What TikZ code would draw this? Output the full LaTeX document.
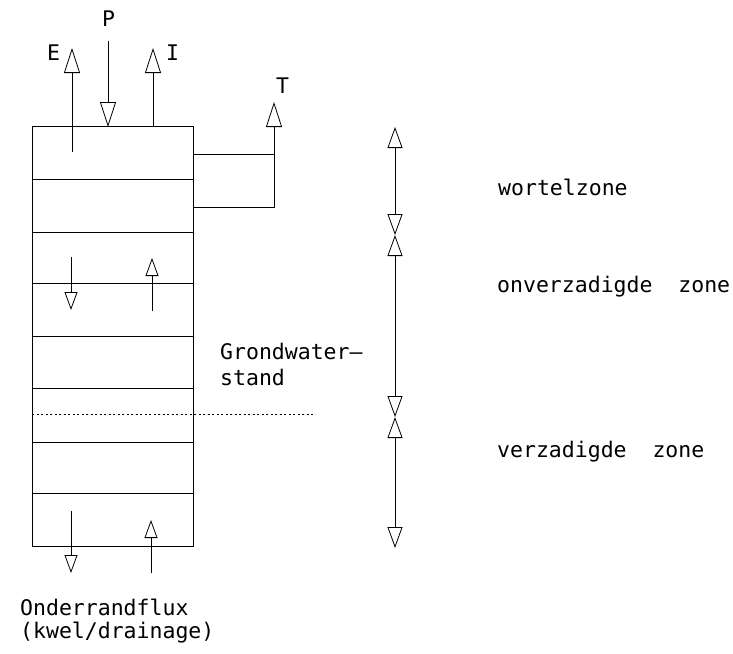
\documentclass[tikz,border=0pt]{standalone}
\usepackage{fontspec}
\newfontfamily\plotfont{DejaVu Sans Mono}
\usetikzlibrary{arrows.meta}

\tikzset{
    flux/.style={line width=0.8pt, -{Triangle[open, length=25pt, width=16pt]}},
    smallflux/.style={line width=0.8pt, -{Triangle[open, length=18pt, width=13pt]}},
    zonescale/.style={line width=0.8pt, {Triangle[open, length=21pt, width=15pt]}-{Triangle[open, length=21pt, width=15pt]}},
    layer/.style={line width=0.7pt},
    plottext/.style={inner sep=0pt, anchor=base west, font=\plotfont\fontsize{21.5}{25}\selectfont}
}

\begin{document}
\begin{tikzpicture}[x=1pt, y=-1pt]
    \useasboundingbox (0,0) rectangle (733,653);

    % Soil column
    \draw[layer] (32,126) rectangle (193,546);
    \foreach \y in {179, 232, 283, 336, 388, 442, 493} {
        \draw[layer] (32,\y) -- (193,\y);
    }
    % Groundwater level
    \draw[layer, dash pattern=on 2pt off 2.5pt] (32,414) -- (315,414);

    % Root box for transpiration
    \draw[layer] (193,154) -- (274,154) -- (274,207) -- (193,207);

    % Top fluxes
    \coordinate (e0) at (72,152);  \coordinate (e1) at (72,48);
    \coordinate (p0) at (108,41);  \coordinate (p1) at (108,127);
    \coordinate (i0) at (153,127); \coordinate (i1) at (153,48);
    \coordinate (t0) at (274,154); \coordinate (t1) at (274,102);
    \draw[flux] (e0) -- (e1);
    \draw[flux] (p0) -- (p1);
    \draw[flux] (i0) -- (i1);
    \draw[flux] (t0) -- (t1);
    \node[plottext] (lblE) at (47,60) {E};
    \node[plottext] (lblP) at (102,27) {P};
    \node[plottext] (lblI) at (166,60) {I};
    \node[plottext] (lblT) at (276,93) {T};

    % Internal fluxes
    \coordinate (d0) at (71,257);  \coordinate (d1) at (71,310);
    \coordinate (u0) at (152,311); \coordinate (u1) at (152,258);
    \draw[smallflux] (d0) -- (d1);
    \draw[smallflux] (u0) -- (u1);

    % Bottom boundary fluxes
    \coordinate (bd0) at (71,511);  \coordinate (bd1) at (71,573);
    \coordinate (bu0) at (151,573); \coordinate (bu1) at (151,520);
    \draw[smallflux] (bd0) -- (bd1);
    \draw[smallflux] (bu0) -- (bu1);

    % Zone scale
    \coordinate (z0) at (395,127);
    \coordinate (z1) at (395,235);
    \coordinate (z2) at (395,417);
    \coordinate (z3) at (395,548);
    \draw[zonescale] (z0) -- (z1);
    \draw[zonescale] (z1) -- (z2);
    \draw[zonescale] (z2) -- (z3);

    % Labels
    \node[plottext] (wortel) at (498,195) {wortelzone};
    \node[plottext] (onverz) at (497,292) {onverzadigde\ \ zone};
    \node[plottext] (verz) at (497,457) {verzadigde\ \ zone};
    \node[plottext] (gws1) at (220,359) {Grondwater–};
    \node[plottext] (gws2) at (220,385) {stand};
    \node[plottext] (onder1) at (20,615) {Onderrandflux};
    \node[plottext] (onder2) at (20,638) {(kwel/drainage)};
\end{tikzpicture}
\end{document}
